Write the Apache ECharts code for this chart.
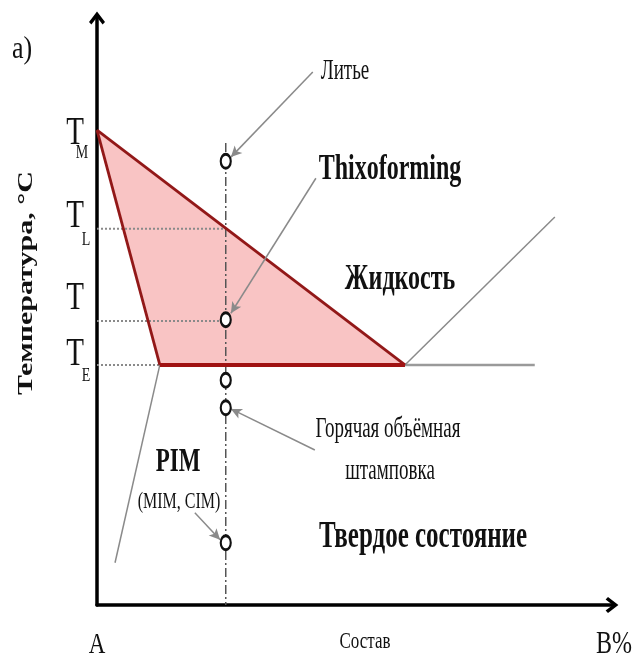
<!DOCTYPE html>
<html>
<head>
<meta charset="utf-8">
<script src="https://cdn.jsdelivr.net/npm/echarts@6/dist/echarts.min.js"></script>
<style>
html,body{margin:0;padding:0;background:#fff;}
#chart{width:642px;height:665px;}
</style>
</head>
<body>
<div id="chart"></div>
<script>
// ---- data (axis units: composition 0..100, temperature 0..100) ----
const tickSubscripts = ['M', 'L', '', 'E'];
const tickLevels = [80.9, 64.1, 48.4, 40.9];
const twoPhaseRegion = [[0, 80.9], [59.8, 40.9], [12.2, 40.9]];
const liquidusLine = [[0, 80.9], [59.8, 40.9]];
const solidusLine = [[0, 80.9], [12.2, 40.9]];
const eutecticLine = [[12.2, 40.9], [59.8, 40.9]];
const eutecticExtension = [[59.8, 40.9], [85, 40.9]];
const rightBranch = [[59.8, 40.9], [88.9, 66.1]];
const solvusLine = [[12.2, 40.9], [3.5, 7.2]];
const alloyLine = [[25, 78.7], [25, 0]];
const guideTL = [[0, 64.1], [25, 64.1]];
const guideT = [[0, 48.4], [25, 48.4]];
const guideTE = [[0, 40.9], [12.2, 40.9]];
const processPoints = [[25, 75.6], [25, 48.6], [25, 38.3], [25, 33.6], [25, 10.6]];
const pointerFrom = [[41.9, 90.8], [42.5, 72.7], [42.3, 26.4], [19.0, 15.7]];
const pointerTo = [[26.0, 76.3], [26.0, 49.7], [26.0, 33.4], [23.9, 11.1]];

const serif = "'Liberation Serif','Times New Roman',serif";
const chevron = 'path://M10,0 L20,13 L17,16 L10,7 L3,16 L0,13 Z';

const chart = echarts.init(document.getElementById('chart'), null, {renderer: 'canvas'});

function lineSeries(data, color, width, type, z) {
  return {
    type: 'line', data: data, symbol: 'none', silent: true, z: z || 2,
    lineStyle: {color: color, width: width, type: type || 'solid'},
    animation: false
  };
}

const option = {
  animation: false,
  backgroundColor: '#ffffff',
  grid: {left: 97, top: 18, right: 30, bottom: 60},
  xAxis: {
    type: 'value', min: 0, max: 100,
    axisLine: {show: true, onZero: false, symbol: ['none', chevron], symbolSize: [16, 16],
      lineStyle: {color: '#000', width: 3.5}},
    axisTick: {show: false}, axisLabel: {show: false}, splitLine: {show: false}
  },
  yAxis: {
    type: 'value', min: 0, max: 100,
    axisLine: {show: true, onZero: false, symbol: ['none', chevron], symbolSize: [16, 16],
      lineStyle: {color: '#000', width: 3.5}},
    axisTick: {show: false}, axisLabel: {show: false}, splitLine: {show: false}
  },
  series: [
    {
      type: 'custom', silent: true, z: 1,
      data: [[0, 0]],
      renderItem: function (params, api) {
        return {
          type: 'polygon',
          shape: {points: twoPhaseRegion.map(function (p) { return api.coord(p); })},
          style: {fill: '#f9c4c4', stroke: null}
        };
      }
    },
    lineSeries(guideTL, '#8a8a8a', 2, [2, 2], 3),
    lineSeries(guideT, '#8a8a8a', 2, [2, 2], 3),
    lineSeries(guideTE, '#8a8a8a', 2, [2, 2], 3),
    lineSeries(alloyLine, '#555', 1.5, [9, 3, 2, 3], 3),
    lineSeries(liquidusLine, '#921818', 2.8, 'solid', 4),
    lineSeries(solidusLine, '#921818', 2.8, 'solid', 4),
    lineSeries(eutecticExtension, '#9a9a9a', 2.5, 'solid', 3),
    lineSeries(eutecticLine, '#a01212', 4, 'solid', 5),
    lineSeries(rightBranch, '#8a8a8a', 1.5, 'solid', 3),
    lineSeries(solvusLine, '#8a8a8a', 1.5, 'solid', 3),
    {
      type: 'line', data: [], silent: true, z: 6,
      markLine: {
        silent: true, animation: false,
        symbol: ['none', 'arrow'], symbolSize: [8, 11],
        label: {show: false},
        lineStyle: {color: '#8a8a8a', width: 1.5, type: 'solid'},
        data: pointerFrom.map(function (p, i) { return [{coord: p}, {coord: pointerTo[i]}]; })
      }
    },
    {
      type: 'scatter', data: processPoints, symbol: 'circle', symbolSize: [10, 14], z: 10, silent: true,
      itemStyle: {color: '#ffffff', borderColor: '#111', borderWidth: 2.5, opacity: 1}
    }
  ]
};
chart.setOption(option);

function txt(text, x, y, size, weight, sy, extra) {
  const el = {
    type: 'text', x: x, y: y, scaleY: sy, z: 100, silent: true,
    style: {
      text: text, x: 0, y: 0, fontSize: size, fontFamily: serif, fontWeight: weight,
      fill: '#111', align: 'center', verticalAlign: 'middle',
      textAlign: 'center', textVerticalAlign: 'middle'
    }
  };
  if (extra) Object.assign(el, extra);
  return el;
}

const tickPos = [
  {t: [75, 133], s: [82, 153]},
  {t: [75, 216], s: [86, 240]},
  {t: [75, 298], s: null},
  {t: [75, 354], s: [86, 376]}
];

const graphics = [];
tickSubscripts.forEach(function (sub, i) {
  const p = tickPos[i];
  graphics.push(txt('T', p.t[0], p.t[1], 29, 'normal', 1.4));
  if (sub) graphics.push(txt(sub, p.s[0], p.s[1], 14, 'normal', 1.3));
});
graphics.push(
  txt('a)', 22, 50, 26, 'normal', 1.2),
  txt('Литье', 345, 72, 19, 'normal', 1.5),
  txt('Thixoforming', 390, 170, 24, 'bold', 1.5),
  txt('Жидкость', 400, 280, 24, 'bold', 1.5),
  txt('Горячая объёмная', 388, 430, 19, 'normal', 1.5),
  txt('штамповка', 390, 472, 19, 'normal', 1.5),
  txt('PIM', 178, 462, 23, 'bold', 1.5),
  txt('(MIM, CIM)', 179, 502, 16, 'normal', 1.4),
  txt('Твердое состояние', 423, 537, 25, 'bold', 1.5),
  txt('A', 97, 645, 23, 'normal', 1.3),
  txt('Состав', 365, 642, 17, 'normal', 1.4),
  txt('B%', 614, 645, 24, 'normal', 1.3),
  {
    type: 'text', x: 27, y: 283, rotation: Math.PI / 2, scaleX: 1.5, z: 100, silent: true,
    style: {
      text: 'Температура, °C', x: 0, y: 0, fontSize: 20, fontFamily: serif, fontWeight: 'bold',
      fill: '#111', align: 'center', verticalAlign: 'middle',
      textAlign: 'center', textVerticalAlign: 'middle'
    }
  }
);
chart.setOption({graphic: graphics});
</script>
</body>
</html>
